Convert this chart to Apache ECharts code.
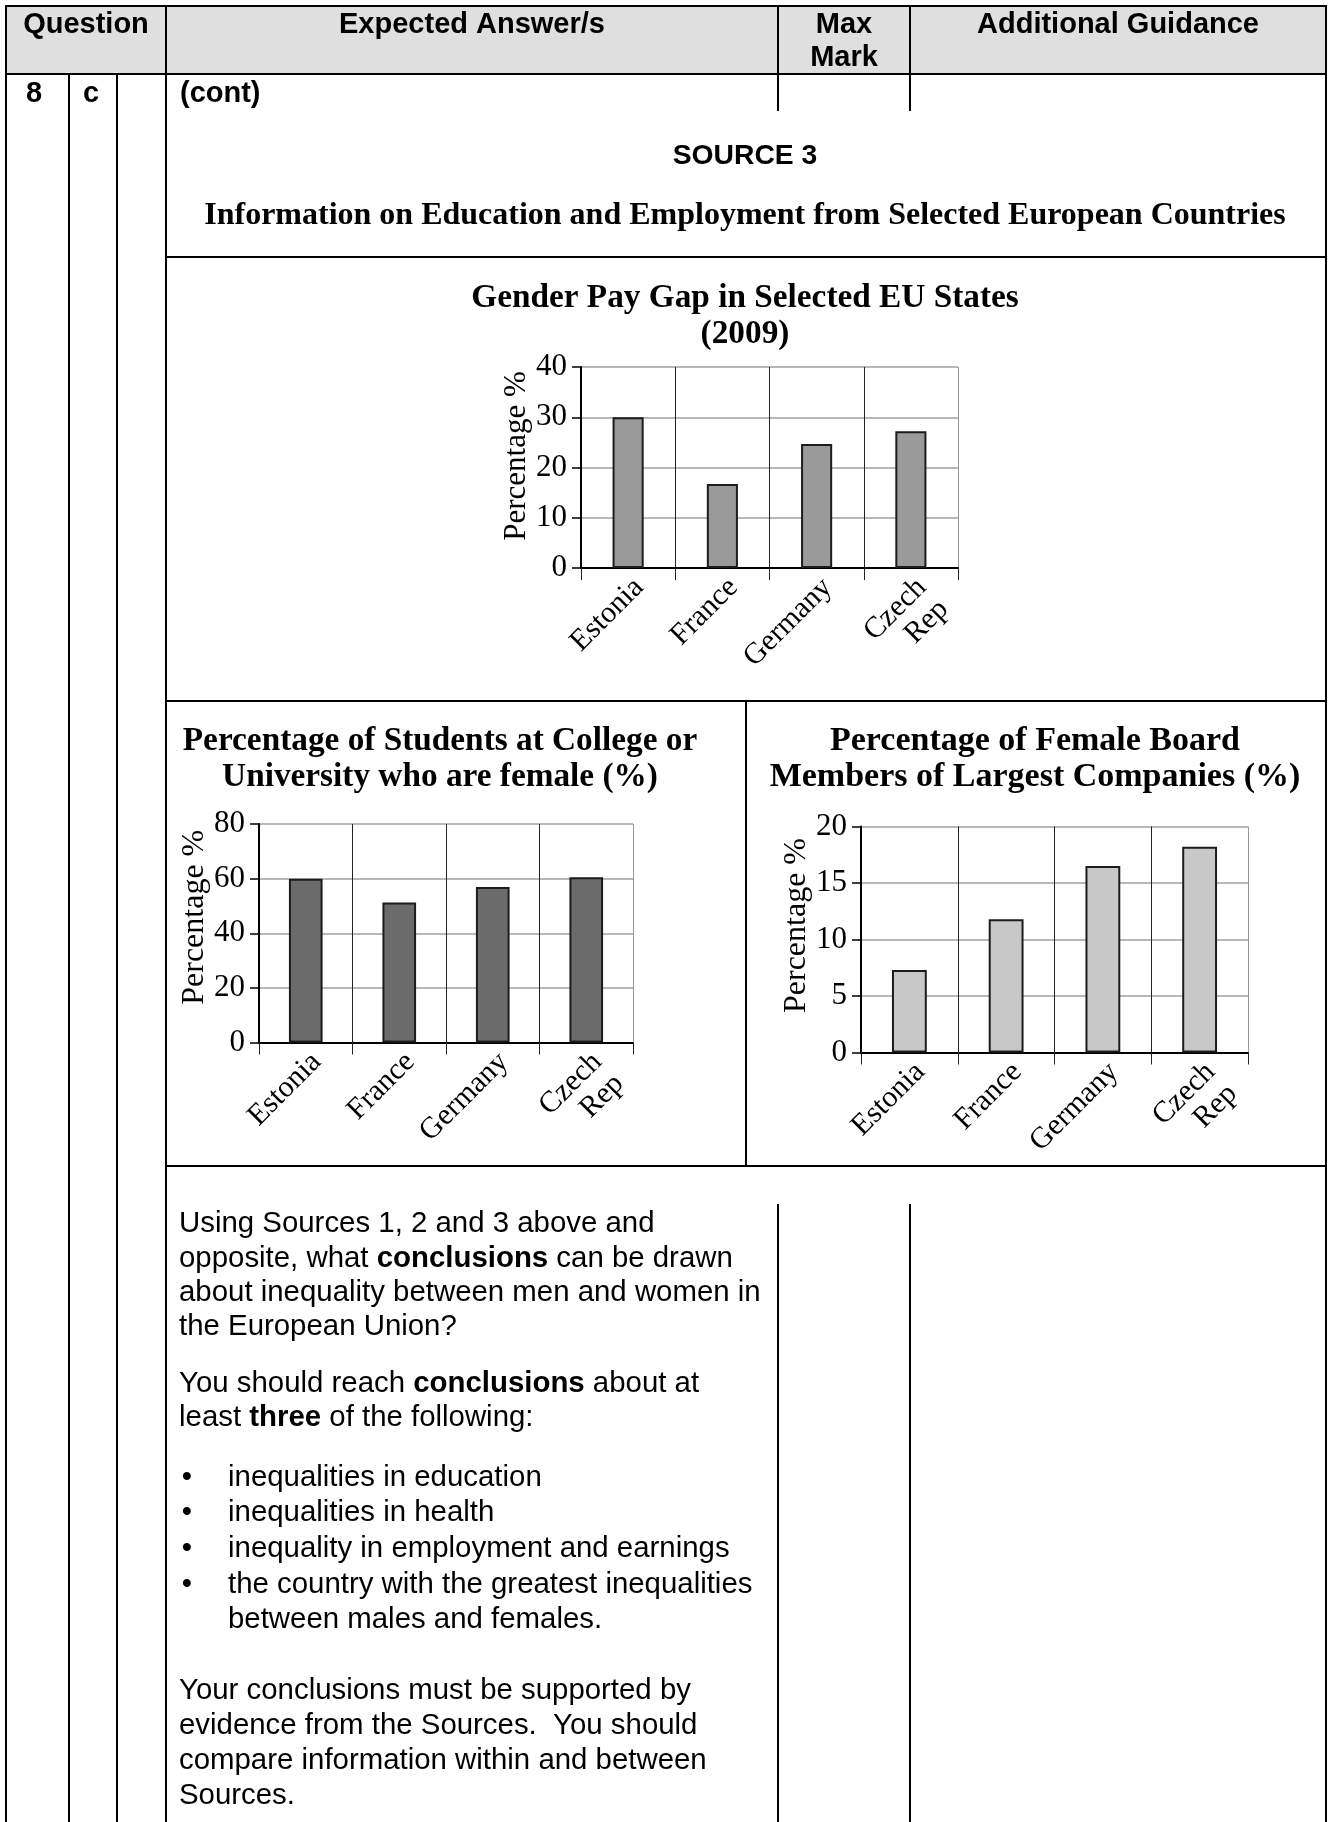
<!DOCTYPE html>
<html>
<head>
<meta charset="utf-8">
<title>Source 3 – Education and Employment</title>
<script src="https://cdn.jsdelivr.net/npm/echarts@6/dist/echarts.min.js"></script>
<style>
  html, body { margin: 0; padding: 0; background: #fff; }
  #page { width: 1330px; height: 1822px; }
</style>
</head>
<body>
<div id="page"></div>
<script>
// ---- data ----
const countries = ['Estonia', 'France', 'Germany', 'Czech\nRep'];
const payGap = [30, 16.7, 24.7, 27.2];            // gender pay gap 2009 (%)
const femaleStudents = [60, 51.3, 56.9, 60.5];    // female share of college/university students (%)
const femaleBoard = [7.3, 11.8, 16.5, 18.2];      // female share of board members (%)

const payGapAxis = { min: 0, max: 40, interval: 10 };
const studentsAxis = { min: 0, max: 80, interval: 20 };
const boardAxis = { min: 0, max: 20, interval: 5 };

const chartTitles = [
  'Gender Pay Gap in Selected EU States\n(2009)',
  'Percentage of Students at College or\nUniversity who are female (%)',
  'Percentage of Female Board\nMembers of Largest Companies (%)'
];
const yAxisName = 'Percentage %';

// ---- fonts ----
const SANS = '"Liberation Sans", Arial, sans-serif';
const SERIF = '"Liberation Serif", "Times New Roman", serif';

// ---- table frame helpers ----
const LW = 2;
function hline(x1, x2, y) {
  return { type: 'line', silent: true, z: 10, shape: { x1: x1, y1: y, x2: x2, y2: y },
           style: { stroke: '#000', lineWidth: LW } };
}
function vline(x, y1, y2) {
  return { type: 'line', silent: true, z: 10, shape: { x1: x, y1: y1, x2: x, y2: y2 },
           style: { stroke: '#000', lineWidth: LW } };
}
function boldRich(size, family) {
  return { b: { fontFamily: family, fontSize: size, fontWeight: 'bold', fill: '#000' } };
}
function txt(x, y, text, opt) {
  opt = opt || {};
  const size = opt.size || 29.4;
  const family = opt.family || SANS;
  return {
    type: 'text', silent: true, z: 11, x: x, y: y,
    style: {
      text: text, x: 0, y: 0,
      fontFamily: family, fontSize: size, fontWeight: opt.weight || 'normal',
      fill: '#000',
      align: opt.align || 'left', verticalAlign: 'middle',
      textAlign: opt.align || 'left', textVerticalAlign: 'middle',
      rich: boldRich(size, family)
    }
  };
}

// column edges of the marking grid
const X0 = 6, XQ1 = 69, XQ2 = 117, XA = 166, XM = 778, XG = 910, X1 = 1326;
const Y0 = 6, YH = 74, YROW = 111, YS1 = 257, YS2 = 701, YSPLIT = 746, YS3 = 1166, YQ = 1204, YEND = 1822;

const frame = [
  { type: 'rect', silent: true, z: 1, shape: { x: X0, y: Y0, width: X1 - X0, height: YH - Y0 },
    style: { fill: '#dfdfdf' } },
  hline(X0 - 1, X1 + 1, Y0),
  hline(X0 - 1, X1 + 1, YH),
  vline(X0, Y0, YEND),
  vline(XA, Y0, YEND),
  vline(X1, Y0, YEND),
  vline(XQ1, YH, YEND),
  vline(XQ2, YH, YEND),
  vline(XM, Y0, YROW),
  vline(XG, Y0, YROW),
  hline(XA, X1, YS1),
  hline(XA, X1, YS2),
  vline(YSPLIT, YS2, YS3),
  hline(XA, X1, YS3),
  vline(XM, YQ, YEND),
  vline(XG, YQ, YEND)
];

const headerTexts = [
  txt(86, 25, 'Question', { weight: 'bold', align: 'center', size: 29 }),
  txt(472, 25, 'Expected Answer/s', { weight: 'bold', align: 'center', size: 29 }),
  txt(844, 25, 'Max', { weight: 'bold', align: 'center', size: 29 }),
  txt(844, 58, 'Mark', { weight: 'bold', align: 'center', size: 29 }),
  txt(1118, 25, 'Additional Guidance', { weight: 'bold', align: 'center', size: 29 }),
  txt(26, 94, '8', { weight: 'bold', size: 29 }),
  txt(83, 94, 'c', { weight: 'bold', size: 29 }),
  txt(180, 94, '(cont)', { weight: 'bold', size: 29 }),
  txt(745, 156, 'SOURCE 3', { weight: 'bold', align: 'center', size: 28.3 }),
  txt(745, 216, 'Information on Education and Employment from Selected European Countries',
      { weight: 'bold', align: 'center', size: 32, family: SERIF })
];

const BX = 179, BULLET_X = 187, BULLET_TX = 228;
const questionLines = [
  [1223.5, 'Using Sources 1, 2 and 3 above and'],
  [1258.5, 'opposite, what {b|conclusions} can be drawn'],
  [1293, 'about inequality between men and women in'],
  [1327, 'the European Union?'],
  [1383.5, 'You should reach {b|conclusions} about at'],
  [1418, 'least {b|three} of the following:'],
  [1690.5, 'Your conclusions must be supported by'],
  [1725.5, 'evidence from the Sources.  You should'],
  [1761, 'compare information within and between'],
  [1796, 'Sources.']
];
const bulletLines = [
  [1478, 'inequalities in education', true],
  [1513, 'inequalities in health', true],
  [1549, 'inequality in employment and earnings', true],
  [1585, 'the country with the greatest inequalities', true],
  [1620, 'between males and females.', false]
];

const bodyTexts = [];
questionLines.forEach(function (l) { bodyTexts.push(txt(BX, l[0], l[1])); });
bulletLines.forEach(function (l) {
  if (l[2]) bodyTexts.push(txt(BULLET_X, l[0], '\u2022', { align: 'center' }));
  bodyTexts.push(txt(BULLET_TX, l[0], l[1]));
});

// ---- charts ----
const grids = [
  { left: 581, top: 367, width: 377, height: 201 },
  { left: 259, top: 824, width: 374, height: 218.5 },
  { left: 861, top: 826.5, width: 387, height: 226 }
];
const axesY = [payGapAxis, studentsAxis, boardAxis];
const seriesData = [payGap, femaleStudents, femaleBoard];
const barFills = ['#9a9a9a', '#6b6b6b', '#c8c8c8'];
const barWidths = ['33%', '36%', '36%'];
const nameShift = [23, 32, 28];
const nameSizes = [31, 32, 32];

function makeX(i) {
  return {
    gridIndex: i, type: 'category', data: countries, boundaryGap: true,
    axisLine: { show: true, onZero: true, lineStyle: { color: '#000', width: 2 } },
    axisTick: { show: true, interval: 0, length: 12, lineStyle: { color: '#222', width: 1 } },
    splitLine: { show: true, interval: 0,
                 lineStyle: { color: ['#222', '#222', '#222', '#222', '#9a9a9a'], width: 1 } },
    axisLabel: { interval: 0, rotate: 45, margin: 4, color: '#000', verticalAlign: 'top',
                 fontFamily: SERIF, fontSize: 30, lineHeight: 31 }
  };
}
function makeY(i) {
  const a = axesY[i];
  return {
    gridIndex: i, type: 'value', min: a.min, max: a.max, interval: a.interval,
    name: yAxisName, nameLocation: 'middle', nameGap: 48, nameRotate: 90,
    nameTextStyle: { fontFamily: SERIF, fontSize: nameSizes[i], color: '#000',
                     padding: [0, 0, 0, nameShift[i]] },
    axisLine: { show: true, lineStyle: { color: '#000', width: 2 } },
    axisTick: { show: true, length: 9, lineStyle: { color: '#000', width: 1.5 } },
    splitLine: { show: true, lineStyle: { color: '#a0a0a0', width: 1.5 } },
    axisLabel: { margin: 14, color: '#000', fontFamily: SERIF, fontSize: 31 }
  };
}
function makeBar(i) {
  return {
    type: 'bar', xAxisIndex: i, yAxisIndex: i, data: seriesData[i],
    barWidth: barWidths[i], silent: true,
    itemStyle: { color: barFills[i], borderColor: '#1c1c1c', borderWidth: 2 }
  };
}
function makeTitle(i, left, top, size) {
  return {
    text: chartTitles[i], left: left, top: top, textAlign: 'center', padding: 0,
    textStyle: { fontFamily: SERIF, fontWeight: 'bold', fontSize: size, lineHeight: 36, color: '#000' }
  };
}

const chart = echarts.init(document.getElementById('page'), null, { renderer: 'canvas' });
chart.setOption({
  animation: false,
  backgroundColor: '#fff',
  title: [makeTitle(0, 745, 280, 33.3), makeTitle(1, 440, 723, 33.3), makeTitle(2, 1035, 723, 34)],
  grid: grids.map(function (g) {
    return Object.assign({ containLabel: false, outerBoundsMode: 'none' }, g);
  }),
  xAxis: [0, 1, 2].map(makeX),
  yAxis: [0, 1, 2].map(makeY),
  series: [0, 1, 2].map(makeBar),
  graphic: { elements: frame.concat(headerTexts, bodyTexts) }
});
</script>
</body>
</html>
